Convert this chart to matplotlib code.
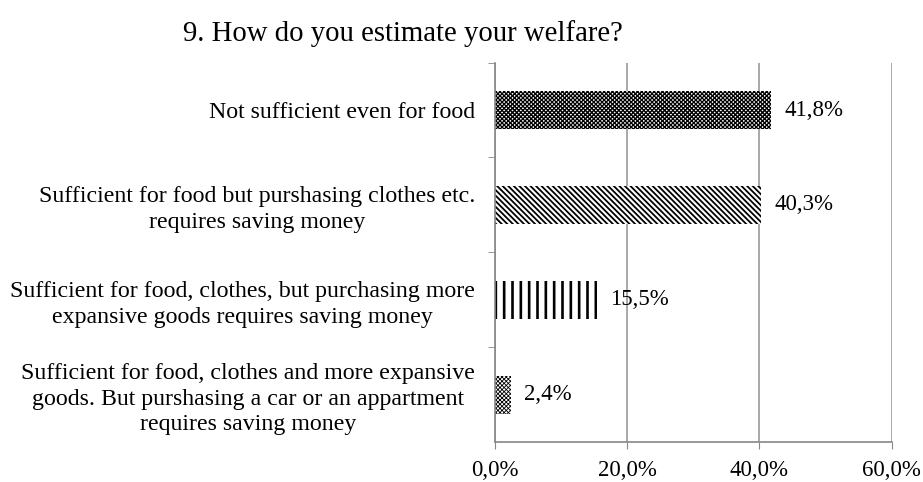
import matplotlib
matplotlib.use("Agg")
import matplotlib.pyplot as plt

plt.rcParams['font.family'] = ['Liberation Serif', 'DejaVu Serif']

categories = [
    "Not sufficient even for food",
    "Sufficient for food but purshasing clothes etc.\nrequires saving money",
    "Sufficient for food, clothes, but purchasing more\nexpansive goods requires saving money",
    "Sufficient for food, clothes and more expansive\ngoods. But purshasing a car or an appartment\nrequires saving money",
]
values = [41.8, 40.3, 15.5, 2.4]
value_labels = ["41,8%", "40,3%", "15,5%", "2,4%"]
xticks = [0, 20, 40, 60]
xtick_labels = ["0,0%", "20,0%", "40,0%", "60,0%"]

hatches = ["xxxxxxxx", "\\" * 6, "||", "xxxxxxxx"]
hatch_widths = [0.95, 1.3, 1.9, 0.6]

fig = plt.figure(figsize=(9.23, 4.82), dpi=100)
ax = fig.add_axes([0.536, 0.083, 0.43, 0.787])

ypos = list(range(len(categories)))[::-1]
for y, v, h, lw in zip(ypos, values, hatches, hatch_widths):
    bar = ax.barh(y, v, height=0.4, color="white", edgecolor="black",
                  linewidth=0, hatch=h)
    for p in bar.patches:
        if hasattr(p, "set_hatch_linewidth"):
            p.set_hatch_linewidth(lw)

for y, v, lab in zip(ypos, values, value_labels):
    ax.text(v + 2.0, y, lab, va="center", ha="left", fontsize=16.5)

ax.set_xlim(0, 60)
ax.set_ylim(-0.5, 3.5)
ax.set_xticks(xticks)
ax.set_xticklabels(xtick_labels, fontsize=16.5)
ax.set_yticks(ypos)
ax.set_yticklabels(categories, fontsize=17.2, multialignment="center",
                   linespacing=1.27)
ax.tick_params(axis="y", length=0, pad=14)
ax.set_yticks([0.5, 1.5, 2.5, 3.5], minor=True)
ax.tick_params(axis="y", which="minor", length=5, color="#888888", direction="out")
ax.tick_params(axis="x", length=5, color="#888888", direction="out", pad=8)

ax.grid(axis="x", color="#999999", linewidth=1.2)
ax.set_axisbelow(True)
for s in ["top", "right"]:
    ax.spines[s].set_visible(False)
ax.spines["left"].set_color("#888888")
ax.spines["bottom"].set_color("#888888")
ax.spines["left"].set_linewidth(1.2)
ax.spines["bottom"].set_linewidth(1.2)

fig.text(0.198, 0.93, "9. How do you estimate your welfare?", fontsize=20.7,
         ha="left", va="center")

fig.savefig("out.png", dpi=100)
